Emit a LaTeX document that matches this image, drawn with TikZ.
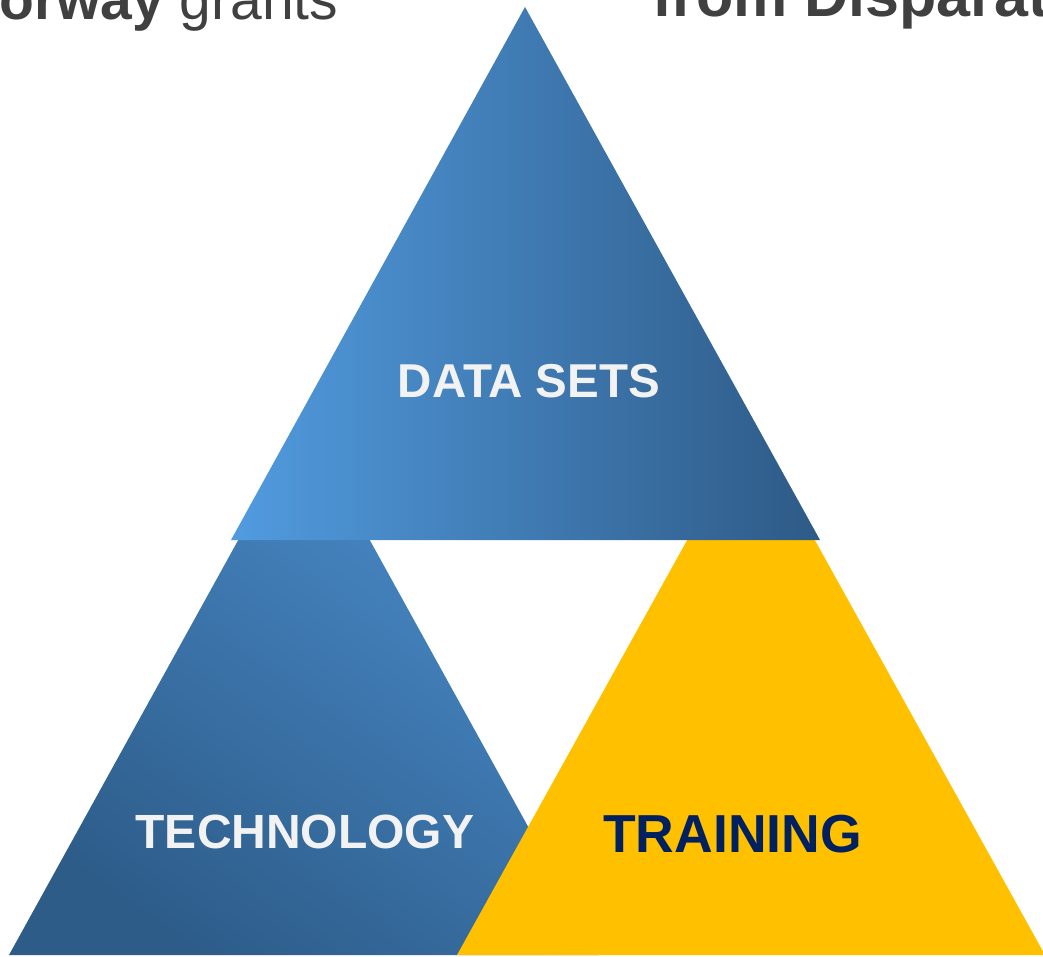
\documentclass[tikz,border=0pt]{standalone}
\usepackage{fontspec}
\setmainfont{Liberation Sans}
\definecolor{blueL}{HTML}{519BDF}
\definecolor{blueD}{HTML}{2E5A86}
\definecolor{blueM}{HTML}{4A8CCB}
\definecolor{blueB}{HTML}{2D5C89}
\definecolor{gold}{HTML}{FFC000}
\definecolor{navy}{HTML}{002060}
\definecolor{lbl}{HTML}{F2F2F2}
\definecolor{hdr}{HTML}{404040}
\tikzset{
  lbltext/.style={inner sep=0pt, anchor=base, font=\bfseries},
  hdrtext/.style={inner sep=0pt, anchor=base west, text=hdr}
}
\begin{document}
\begin{tikzpicture}[x=1pt,y=-1pt]
\useasboundingbox (0,0) rectangle (1043,957);
\clip (0,0) rectangle (1043,957);
% corner coordinates
\coordinate (TA) at (525,7);
\coordinate (TL) at (231,540);
\coordinate (TR) at (820,540);
\coordinate (LA) at (304,421);
\coordinate (LL) at (9,955);
\coordinate (LR) at (599,955);
\coordinate (YA) at (751,425);
\coordinate (YL) at (457,955);
\coordinate (YR) at (1045,955);
% header fragments
\node[hdrtext] (h1) at (-1,20) {\fontsize{57}{60}\selectfont\textbf{orway} grants};
\node[hdrtext] (h2) at (652,17) {\fontsize{61}{64}\selectfont\textbf{from Disparat}};
% triangles
\shade[top color=blueM, bottom color=blueB, shading angle=-35] (LA) -- (LR) -- (LL) -- cycle;
\fill[gold] (YA) -- (YR) -- (YL) -- cycle;
\shade[left color=blueL, right color=blueD] (TA) -- (TR) -- (TL) -- cycle;
% labels
\node[lbltext, text=lbl] (ds) at (529,397) {\fontsize{47.5}{51}\selectfont DATA SETS};
\node[lbltext, text=lbl] (tech) at (305,848) {\fontsize{48}{52}\selectfont TECHNOLOGY};
\node[lbltext, text=navy] (train) at (732.5,852) {\fontsize{53.5}{57}\selectfont TRAINING};
\end{tikzpicture}
\end{document}
